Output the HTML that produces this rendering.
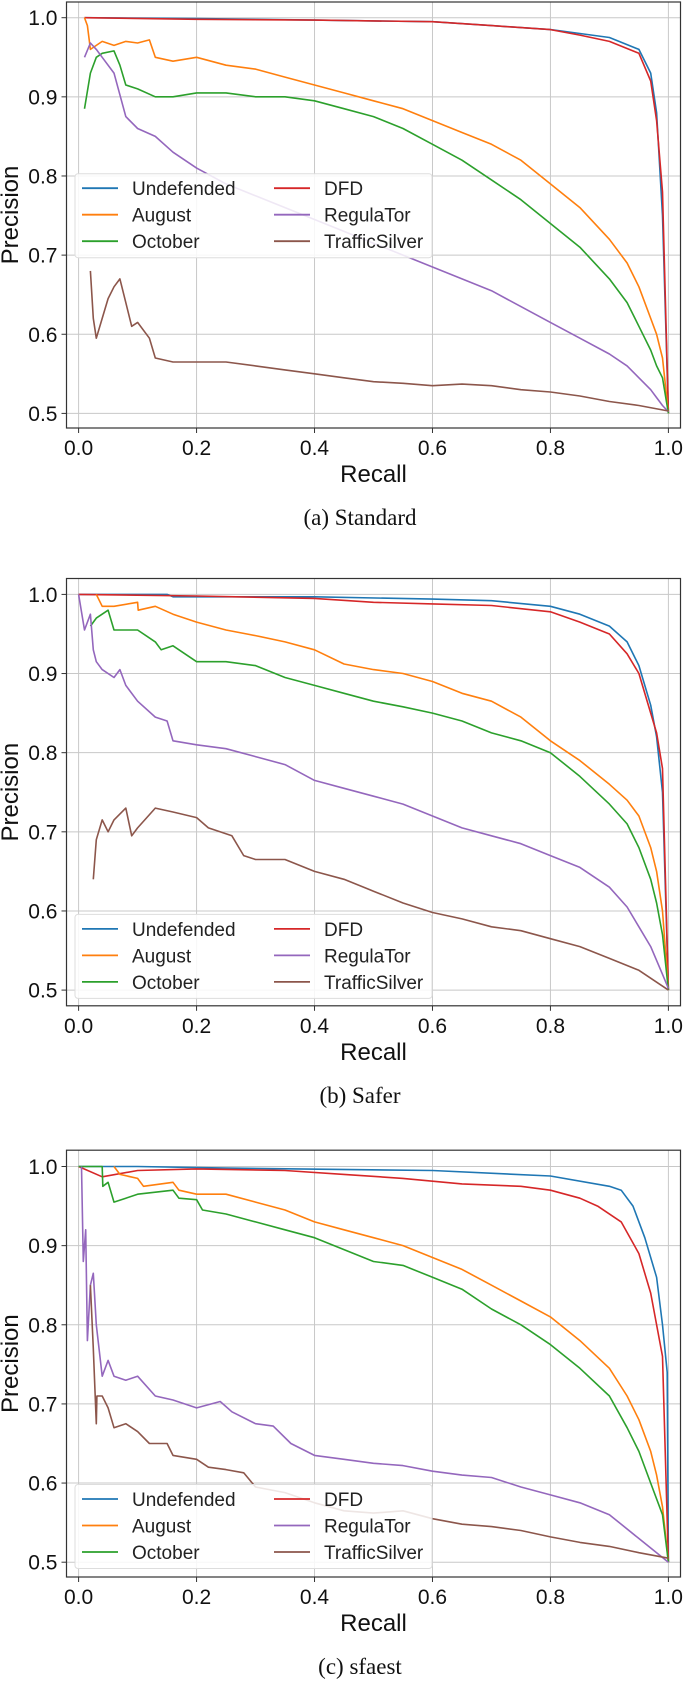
<!DOCTYPE html>
<html><head><meta charset="utf-8"><style>
html,body{margin:0;padding:0;background:#fff;}
svg{display:block;}
</style></head><body>
<svg id="fig" width="685" height="1683" viewBox="0 0 685 1683" xmlns="http://www.w3.org/2000/svg"></svg>
<script>
const seriesNames = ["Undefended","August","October","DFD","RegulaTor","TrafficSilver"];
const seriesColors = ["#1f77b4","#ff7f0e","#2ca02c","#d62728","#9467bd","#8c564b"];
const panelTitles = ["(a) Standard","(b) Safer","(c) sfaest"];
const xTicks = [0,0.2,0.4,0.6,0.8,1.0];
const xTickLabels = ["0.0","0.2","0.4","0.6","0.8","1.0"];
const yTicks = [0.5,0.6,0.7,0.8,0.9,1.0];
const yTickLabels = ["0.5","0.6","0.7","0.8","0.9","1.0"];

// Panel A (Standard)
const aUndefR=[0.01,0.2,0.4,0.6,0.7,0.8,0.85,0.9,0.95,0.97,0.98,0.99,1.0];
const aUndefP=[1.0,0.999,0.997,0.995,0.99,0.985,0.98,0.975,0.96,0.93,0.88,0.75,0.5];
const aAugR=[0.01,0.015,0.02,0.04,0.06,0.08,0.1,0.12,0.13,0.16,0.2,0.25,0.3,0.35,0.4,0.45,0.5,0.55,0.6,0.65,0.7,0.75,0.8,0.85,0.9,0.93,0.95,0.97,0.98,0.99,1.0];
const aAugP=[1.0,0.99,0.96,0.97,0.965,0.97,0.968,0.972,0.95,0.945,0.95,0.94,0.935,0.925,0.915,0.905,0.895,0.885,0.87,0.855,0.84,0.82,0.79,0.76,0.72,0.69,0.66,0.62,0.6,0.57,0.5];
const aOctR=[0.01,0.02,0.03,0.04,0.06,0.07,0.08,0.1,0.13,0.16,0.2,0.25,0.3,0.35,0.4,0.45,0.5,0.55,0.6,0.65,0.7,0.75,0.8,0.85,0.9,0.93,0.95,0.97,0.98,0.99,1.0];
const aOctP=[0.885,0.93,0.95,0.955,0.958,0.94,0.915,0.91,0.9,0.9,0.905,0.905,0.9,0.9,0.895,0.885,0.875,0.86,0.84,0.82,0.795,0.77,0.74,0.71,0.67,0.64,0.61,0.58,0.56,0.545,0.5];
const aDfdR=[0.01,0.2,0.4,0.6,0.7,0.8,0.85,0.9,0.95,0.97,0.98,0.99,1.0];
const aDfdP=[1.0,0.998,0.997,0.995,0.99,0.985,0.978,0.97,0.955,0.92,0.87,0.78,0.5];
const aRegR=[0.01,0.02,0.03,0.04,0.06,0.08,0.1,0.13,0.16,0.2,0.25,0.3,0.35,0.4,0.45,0.5,0.55,0.6,0.65,0.7,0.75,0.8,0.85,0.9,0.93,0.95,0.97,0.98,0.99,1.0];
const aRegP=[0.95,0.968,0.96,0.95,0.93,0.875,0.86,0.85,0.83,0.81,0.79,0.775,0.76,0.745,0.73,0.715,0.7,0.685,0.67,0.655,0.635,0.615,0.595,0.575,0.56,0.545,0.53,0.52,0.51,0.502];
const aTsR=[0.02,0.025,0.03,0.04,0.05,0.06,0.07,0.08,0.09,0.1,0.12,0.13,0.16,0.2,0.25,0.3,0.35,0.4,0.45,0.5,0.55,0.6,0.65,0.7,0.75,0.8,0.85,0.9,0.95,1.0];
const aTsP=[0.68,0.62,0.595,0.62,0.645,0.66,0.67,0.64,0.61,0.615,0.595,0.57,0.565,0.565,0.565,0.56,0.555,0.55,0.545,0.54,0.538,0.535,0.537,0.535,0.53,0.527,0.522,0.515,0.51,0.503];

// Panel B (Safer)
const bUndefR=[0.0,0.15,0.16,0.4,0.6,0.7,0.8,0.85,0.9,0.93,0.95,0.97,0.98,0.99,1.0];
const bUndefP=[1.0,1.0,0.997,0.997,0.994,0.992,0.985,0.975,0.96,0.94,0.91,0.86,0.82,0.75,0.5];
const bAugR=[0.03,0.04,0.06,0.1,0.101,0.13,0.16,0.2,0.25,0.3,0.35,0.4,0.45,0.5,0.55,0.6,0.65,0.7,0.75,0.8,0.85,0.9,0.93,0.95,0.97,0.98,0.99,1.0];
const bAugP=[1.0,0.985,0.985,0.99,0.98,0.985,0.975,0.965,0.955,0.948,0.94,0.93,0.912,0.905,0.9,0.89,0.875,0.865,0.845,0.815,0.79,0.76,0.74,0.72,0.68,0.65,0.6,0.5];
const bOctR=[0.02,0.03,0.05,0.06,0.08,0.1,0.13,0.14,0.16,0.2,0.25,0.3,0.35,0.4,0.45,0.5,0.55,0.6,0.65,0.7,0.75,0.8,0.85,0.9,0.93,0.95,0.97,0.98,0.99,1.0];
const bOctP=[0.96,0.97,0.98,0.955,0.955,0.955,0.94,0.93,0.935,0.915,0.915,0.91,0.895,0.885,0.875,0.865,0.858,0.85,0.84,0.825,0.815,0.8,0.77,0.735,0.71,0.68,0.64,0.61,0.57,0.5];
const bDfdR=[0.0,0.2,0.4,0.5,0.6,0.7,0.8,0.85,0.9,0.93,0.95,0.97,0.98,0.99,1.0];
const bDfdP=[1.0,0.998,0.995,0.99,0.988,0.986,0.978,0.965,0.95,0.925,0.9,0.85,0.825,0.78,0.5];
const bRegR=[0.0,0.01,0.02,0.025,0.03,0.04,0.06,0.07,0.08,0.1,0.13,0.15,0.16,0.2,0.25,0.3,0.35,0.4,0.45,0.5,0.55,0.6,0.65,0.7,0.75,0.8,0.85,0.9,0.93,0.95,0.97,0.99,1.0];
const bRegP=[1.0,0.955,0.975,0.93,0.915,0.905,0.895,0.905,0.885,0.865,0.845,0.84,0.815,0.81,0.805,0.795,0.785,0.765,0.755,0.745,0.735,0.72,0.705,0.695,0.685,0.67,0.655,0.63,0.605,0.58,0.555,0.52,0.502];
const bTsR=[0.025,0.03,0.04,0.05,0.06,0.08,0.09,0.1,0.13,0.16,0.2,0.22,0.26,0.28,0.3,0.35,0.4,0.45,0.5,0.55,0.6,0.65,0.7,0.75,0.8,0.85,0.9,0.95,1.0];
const bTsP=[0.64,0.69,0.715,0.7,0.715,0.73,0.695,0.705,0.73,0.725,0.718,0.705,0.695,0.67,0.665,0.665,0.65,0.64,0.625,0.61,0.598,0.59,0.58,0.575,0.565,0.555,0.54,0.525,0.5];

// Panel C (sfaest)
const cUndefR=[0.0,0.1,0.25,0.6,0.8,0.9,0.92,0.94,0.96,0.98,0.99,0.998,1.0];
const cUndefP=[1.0,1.0,0.998,0.995,0.988,0.975,0.97,0.95,0.91,0.86,0.8,0.74,0.5];
const cAugR=[0.06,0.07,0.1,0.11,0.16,0.17,0.2,0.25,0.3,0.35,0.4,0.45,0.5,0.55,0.6,0.65,0.7,0.75,0.8,0.85,0.9,0.93,0.95,0.97,0.98,0.99,1.0];
const cAugP=[1.0,0.99,0.985,0.975,0.98,0.97,0.965,0.965,0.955,0.945,0.93,0.92,0.91,0.9,0.885,0.87,0.85,0.83,0.81,0.78,0.745,0.71,0.68,0.64,0.61,0.57,0.5];
const cOctR=[0.0,0.04,0.041,0.05,0.06,0.08,0.1,0.16,0.17,0.2,0.21,0.25,0.3,0.35,0.4,0.45,0.5,0.55,0.6,0.65,0.7,0.75,0.8,0.85,0.9,0.93,0.95,0.97,0.99,1.0];
const cOctP=[1.0,1.0,0.975,0.98,0.955,0.96,0.965,0.97,0.96,0.958,0.945,0.94,0.93,0.92,0.91,0.895,0.88,0.875,0.86,0.845,0.82,0.8,0.775,0.745,0.71,0.67,0.64,0.6,0.56,0.5];
const cDfdR=[0.0,0.04,0.1,0.2,0.35,0.45,0.55,0.65,0.75,0.8,0.85,0.88,0.92,0.95,0.97,0.99,1.0];
const cDfdP=[1.0,0.987,0.995,0.997,0.995,0.99,0.985,0.978,0.975,0.97,0.96,0.95,0.93,0.89,0.84,0.76,0.5];
const cRegR=[0.005,0.008,0.012,0.015,0.02,0.025,0.03,0.04,0.05,0.06,0.08,0.1,0.13,0.16,0.2,0.24,0.26,0.3,0.33,0.36,0.4,0.45,0.5,0.55,0.6,0.65,0.7,0.75,0.8,0.85,0.9,0.95,0.98,1.0];
const cRegP=[1.0,0.88,0.92,0.78,0.85,0.865,0.8,0.735,0.755,0.735,0.73,0.735,0.71,0.705,0.695,0.703,0.69,0.675,0.672,0.65,0.635,0.63,0.625,0.622,0.615,0.61,0.607,0.595,0.585,0.575,0.56,0.53,0.512,0.5];
const cTsR=[0.02,0.025,0.03,0.031,0.04,0.05,0.06,0.08,0.1,0.12,0.15,0.16,0.2,0.22,0.25,0.28,0.3,0.35,0.4,0.45,0.5,0.55,0.6,0.65,0.7,0.75,0.8,0.85,0.9,0.95,1.0];
const cTsP=[0.85,0.77,0.675,0.71,0.71,0.695,0.67,0.675,0.665,0.65,0.65,0.635,0.63,0.62,0.617,0.613,0.595,0.588,0.575,0.565,0.562,0.565,0.555,0.548,0.545,0.54,0.532,0.525,0.52,0.512,0.505];

const panelRecall = [
  [aUndefR,aAugR,aOctR,aDfdR,aRegR,aTsR],
  [bUndefR,bAugR,bOctR,bDfdR,bRegR,bTsR],
  [cUndefR,cAugR,cOctR,cDfdR,cRegR,cTsR]];
const panelPrecision = [
  [aUndefP,aAugP,aOctP,aDfdP,aRegP,aTsP],
  [bUndefP,bAugP,bOctP,bDfdP,bRegP,bTsP],
  [cUndefP,cAugP,cOctP,cDfdP,cRegP,cTsP]];

const NS="http://www.w3.org/2000/svg";
const svg=document.getElementById('fig');
function mk(tag,attrs,parent){const e=document.createElementNS(NS,tag);for(const k in attrs)e.setAttribute(k,attrs[k]);(parent||svg).appendChild(e);return e;}

const L=66.5,R=680.5,X0=78.6,XW=589.8;
const geo=[{top:2,bot:428,y1:17.7,leg:156},{top:578.5,bot:1005.8,y1:594.4,leg:320},{top:1150.2,bot:1577,y1:1166.5,leg:318}];
const YS=791.4;
const drawOrder=[0,3,1,2,4,5];

geo.forEach((g,pi)=>{
  const xs=v=>X0+v*XW;
  const ys=v=>g.y1+(1-v)*YS;
  const G=mk('g',{});
  
  
  // grid
  xTicks.forEach((t,i)=>{
    const l=mk('line',{x1:xs(t),x2:xs(t),y1:g.top,y2:g.bot,stroke:'#c8c8c8','stroke-width':1},G);
    
    
    mk('line',{x1:xs(t),x2:xs(t),y1:g.bot,y2:g.bot+5,stroke:'#333','stroke-width':1},G);
    const tx=mk('text',{x:xs(t),y:g.bot+27,'text-anchor':'middle','font-family':'Liberation Sans, sans-serif','font-size':21,fill:'#111'},G);
    tx.textContent=xTickLabels[i];
    
    
  });
  yTicks.forEach((t,i)=>{
    const l=mk('line',{x1:L,x2:R,y1:ys(t),y2:ys(t),stroke:'#c8c8c8','stroke-width':1},G);
    
    
    mk('line',{x1:L-5,x2:L,y1:ys(t),y2:ys(t),stroke:'#333','stroke-width':1},G);
    const tx=mk('text',{x:L-9,y:ys(t)+7.5,'text-anchor':'end','font-family':'Liberation Sans, sans-serif','font-size':21,fill:'#111'},G);
    tx.textContent=yTickLabels[i];
    
    
  });
  // series
  drawOrder.forEach(si=>{
    const rr=panelRecall[pi][si],pp=panelPrecision[pi][si];
    const d=rr.map((r,k)=>(k?'L':'M')+xs(r).toFixed(1)+','+ys(pp[k]).toFixed(1)).join(' ');
    const p=mk('path',{d:d,fill:'none',stroke:seriesColors[si],'stroke-width':1.6,'stroke-linejoin':'round'},G);
    
    
  });
  // frame
  const fr=mk('rect',{x:L,y:g.top,width:R-L,height:g.bot-g.top,fill:'none',stroke:'#333','stroke-width':1.2},G);
  
  
  // legend
  const lt=g.y1+g.leg;
  const LG=mk('g',{},G);
  
  
  mk('rect',{x:75,y:lt,width:357,height:84,rx:3,fill:'#fff','fill-opacity':0.85,stroke:'#ddd','stroke-width':1},LG);
  seriesNames.forEach((n,si)=>{
    const col=si<3?0:1,row=si%3;
    const lx=col?274:82, ly=lt+14.5+row*26.5;
    mk('line',{x1:lx,x2:lx+36,y1:ly,y2:ly,stroke:seriesColors[si],'stroke-width':1.8},LG);
    const t=mk('text',{x:lx+50,y:ly+7,'font-family':'Liberation Sans, sans-serif','font-size':19,fill:'#222'},LG);
    t.textContent=n;
    
    
  });
  // axis titles
  const xt=mk('text',{x:(L+R)/2,y:g.bot+54,'text-anchor':'middle','font-family':'Liberation Sans, sans-serif','font-size':24,fill:'#111'},G);
  xt.textContent='Recall';
  
  
  const cy=(g.top+g.bot)/2;
  const yt=mk('text',{x:0,y:0,transform:'translate(18,'+cy+') rotate(-90)','text-anchor':'middle','font-family':'Liberation Sans, sans-serif','font-size':24,fill:'#111'},G);
  yt.textContent='Precision';
  
  
  const cap=mk('text',{x:360,y:g.bot+97,'text-anchor':'middle','font-family':'Liberation Serif, serif','font-size':23,fill:'#111'},G);
  cap.textContent=panelTitles[pi];
  
  
});
</script>
</body></html>
